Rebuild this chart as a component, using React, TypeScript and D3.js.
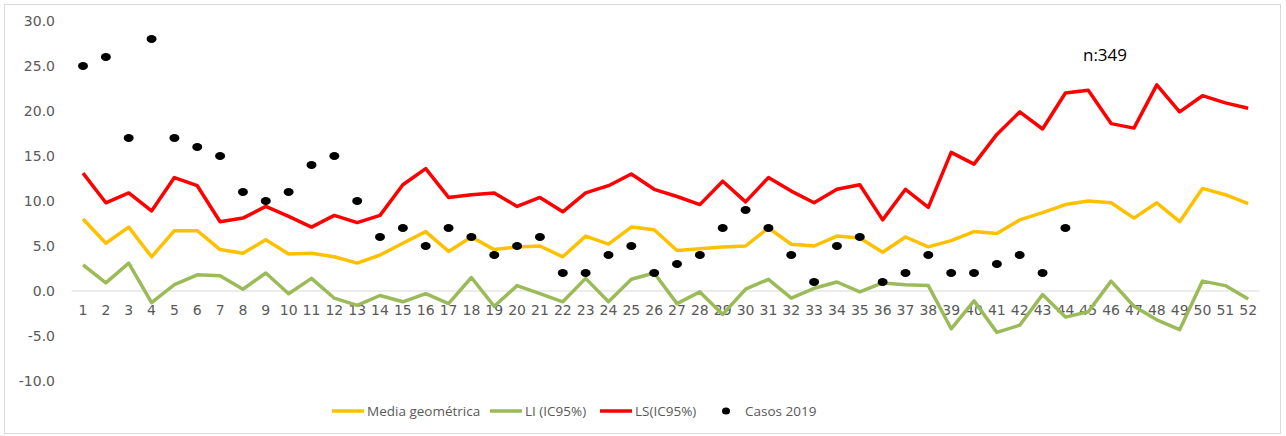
import React from "react";
import * as d3 from "d3";

const weeks: number[] = d3.range(1, 53);

const mediaGeometrica: number[] = [
  8.0, 5.3, 7.1, 3.8, 6.7, 6.7, 4.6, 4.2, 5.7, 4.1, 4.2, 3.8, 3.1, 4.0, 5.3, 6.6,
  4.4, 6.0, 4.6, 4.9, 5.0, 3.8, 6.1, 5.2, 7.1, 6.8, 4.5, 4.7, 4.9, 5.0, 7.0, 5.2,
  5.0, 6.1, 5.9, 4.3, 6.0, 4.9, 5.6, 6.6, 6.4, 7.9, 8.7, 9.6, 10.0, 9.8, 8.1, 9.8,
  7.7, 11.4, 10.7, 9.7,
];

const liIC95: number[] = [
  2.9, 0.9, 3.1, -1.3, 0.7, 1.8, 1.7, 0.2, 2.0, -0.3, 1.4, -0.8, -1.6, -0.5, -1.2, -0.3,
  -1.4, 1.5, -1.7, 0.6, -0.3, -1.2, 1.4, -1.2, 1.3, 2.0, -1.4, -0.1, -2.6, 0.2, 1.3, -0.8,
  0.3, 1.0, -0.1, 0.9, 0.7, 0.6, -4.2, -1.1, -4.6, -3.8, -0.4, -2.9, -2.3, 1.1, -1.7, -3.2,
  -4.3, 1.1, 0.6, -0.9,
];

const lsIC95: number[] = [
  13.1, 9.8, 10.9, 8.9, 12.6, 11.7, 7.7, 8.1, 9.4, 8.3, 7.1, 8.4, 7.6, 8.4, 11.8, 13.6,
  10.4, 10.7, 10.9, 9.4, 10.4, 8.8, 10.9, 11.7, 13.0, 11.3, 10.5, 9.6, 12.2, 9.9, 12.6, 11.1,
  9.8, 11.3, 11.8, 7.9, 11.3, 9.3, 15.4, 14.1, 17.4, 19.9, 18.0, 22.0, 22.3, 18.6, 18.1, 22.9,
  19.9, 21.7, 20.9, 20.3,
];

const casos2019: (number | null)[] = [
  25, 26, 17, 28, 17, 16, 15, 11, 10, 11, 14, 15, 10, 6, 7, 5,
  7, 6, 4, 5, 6, 2, 2, 4, 5, 2, 3, 4, 7, 9, 7, 4,
  1, 5, 6, 1, 2, 4, 2, 2, 3, 4, 2, 7, null, null, null, null,
  null, null, null, null,
];

const yTicks: number[] = [-10, -5, 0, 5, 10, 15, 20, 25, 30];
const annotation = "n:349";

const legendItems = [
  { label: "Media geométrica", color: "#FFC000", kind: "line" },
  { label: "LI (IC95%)", color: "#9BBB59", kind: "line" },
  { label: "LS(IC95%)", color: "#FF0000", kind: "line" },
  { label: "Casos 2019", color: "#000000", kind: "dot" },
];

export default function App() {
  const W = 1286;
  const H = 436;
  const plotLeft = 71.6;
  const plotRight = 1259.6;

  const x = d3
    .scaleBand<number>()
    .domain(weeks)
    .range([plotLeft, plotRight]);
  const cx = (w: number) => (x(w) as number) + x.bandwidth() / 2;

  const y = d3.scaleLinear().domain([-10, 30]).range([381, 21]);

  const lineGen = d3
    .line<number>()
    .x((_, i) => cx(weeks[i]))
    .y((d) => y(d));

  const series = [
    { data: mediaGeometrica, color: "#FFC000" },
    { data: liIC95, color: "#9BBB59" },
    { data: lsIC95, color: "#FF0000" },
  ];

  const legendX = [332, 490, 600, 717];
  const axisFont = "'DejaVu Sans', sans-serif";
  const legendFont = "'Open Sans', sans-serif";

  return (
    <svg
      width={W}
      height={H}
      style={{ position: "absolute", left: 0, top: 0, background: "#fff" }}
    >
      <rect x={4.5} y={4.5} width={1276} height={429} fill="#fff" stroke="#d9d9d9" strokeWidth={1} />

      {/* zero line */}
      <line x1={plotLeft} x2={plotRight} y1={y(0)} y2={y(0)} stroke="#d9d9d9" strokeWidth={1} />

      {/* y tick labels */}
      {yTicks.map((t) => (
        <text
          key={t}
          x={55}
          y={y(t)}
          textAnchor="end"
          dominantBaseline="central"
          fontFamily={axisFont}
          fontSize={14}
          fill="#595959"
        >
          {t.toFixed(1)}
        </text>
      ))}

      {/* x tick labels */}
      {weeks.map((w) => (
        <text
          key={w}
          x={cx(w)}
          y={310}
          textAnchor="middle"
          dominantBaseline="central"
          fontFamily={axisFont}
          fontSize={14}
          fill="#595959"
        >
          {w}
        </text>
      ))}

      {series.map((s, i) => (
        <path
          key={i}
          d={lineGen(s.data) || ""}
          fill="none"
          stroke={s.color}
          strokeWidth={3.5}
          strokeLinejoin="round"
        />
      ))}

      {casos2019.map((v, i) =>
        v === null ? null : (
          <ellipse key={i} cx={cx(weeks[i])} cy={y(v)} rx={5} ry={4} fill="#000" />
        )
      )}

      <text
        x={1105}
        y={54}
        textAnchor="middle"
        dominantBaseline="central"
        fontFamily={legendFont}
        fontSize={17}
        fill="#000"
      >
        {annotation}
      </text>

      {/* legend */}
      {legendItems.map((it, i) => {
        const lx = legendX[i];
        return (
          <g key={it.label}>
            {it.kind === "line" ? (
              <line x1={lx} x2={lx + 32} y1={411} y2={411} stroke={it.color} strokeWidth={3.5} />
            ) : (
              <ellipse cx={lx + 9} cy={411} rx={4} ry={3.6} fill={it.color} />
            )}
            <text
              x={it.kind === "line" ? lx + 35 : lx + 28}
              y={411}
              dominantBaseline="central"
              fontFamily={legendFont}
              fontSize={13.5}
              fill="#595959"
            >
              {it.label}
            </text>
          </g>
        );
      })}
    </svg>
  );
}
